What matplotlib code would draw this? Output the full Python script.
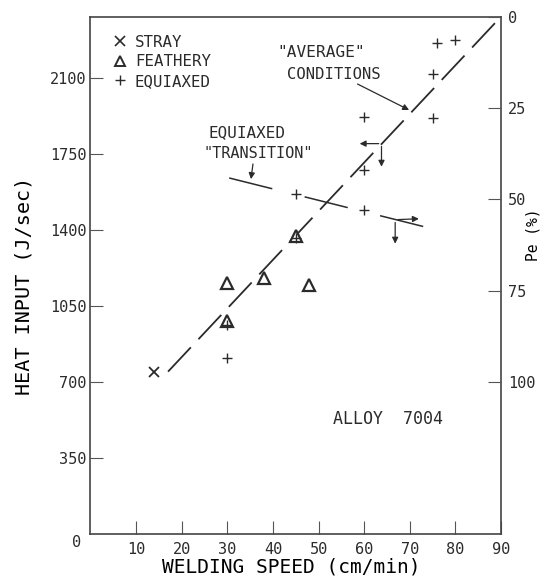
import numpy as np
import matplotlib
matplotlib.use("Agg")
import matplotlib.pyplot as plt
from matplotlib.lines import Line2D

plt.rcParams['font.family'] = 'DejaVu Sans Mono'
plt.rcParams['lines.scale_dashes'] = False

ink = '#2b2b2b'
plt.rcParams['text.color'] = ink

# axis scales
speed_ticks = [10, 20, 30, 40, 50, 60, 70, 80, 90]
heat_ticks = [350, 700, 1050, 1400, 1750, 2100]
pe_ticks = [0, 25, 50, 75, 100]
heat_top = 2380     # heat input at top frame (Pe = 0)
heat_pe100 = 700    # heat input where Pe = 100

# weld structures: speed (cm/min), heat input (J/sec)
stray_speed = [14]
stray_heat = [745]
feathery_speed = [30, 30, 38, 48, 45]
feathery_heat = [982, 1155, 1180, 1145, 1372]
equiaxed_speed = [30, 30, 45, 45, 60, 60, 60, 75, 75, 76, 80]
equiaxed_heat = [810, 962, 1360, 1565, 1490, 1675, 1920, 1915, 2115, 2260, 2275]

# "average conditions" line and equiaxed transition line
avg_speed = [17, 90]
avg_heat = [747, 2380]
trans_speed = [30.4, 75.2]
trans_heat = [1638, 1403]


def pe_of(h):
    return (heat_top - h) / (heat_top - heat_pe100) * 100


fig = plt.figure(figsize=(5.46, 5.79), dpi=100)
ax = fig.add_axes([0.16575, 0.07772, 0.75183, 0.89344])
ax.set_xlim(0, 90)
ax.set_ylim(0, heat_top)

ax.plot(avg_speed, avg_heat, color=ink, lw=1.3, dashes=(24, 8))
ax.plot(trans_speed, trans_heat, color=ink, lw=1.1, dashes=(32, 24))

ax.plot(stray_speed, stray_heat, ls='none', marker='x', ms=7, mew=1.3, color=ink)
ax.plot(feathery_speed, feathery_heat, ls='none', marker='^', ms=8, mew=1.6,
        mfc='white', mec=ink)
ax.plot(equiaxed_speed, equiaxed_heat, ls='none', marker='+', ms=7, mew=1.0, color=ink)

# annotations
ax.text(41.0, 2215, '"AVERAGE"', fontsize=11.6, va='center')
ax.text(43.0, 2115, 'CONDITIONS', fontsize=11.2, va='center')
ax.annotate('', xy=(70.4, 1945), xytext=(58.0, 2076),
            arrowprops=dict(arrowstyle='-|>', lw=0.9, color=ink, mutation_scale=9))

ax.text(25.8, 1848, 'EQUIAXED', fontsize=11.5, va='center')
ax.text(24.8, 1752, '"TRANSITION"', fontsize=11.0, va='center')
ax.annotate('', xy=(35.1, 1620), xytext=(35.7, 1715),
            arrowprops=dict(arrowstyle='-|>', lw=0.9, color=ink, mutation_scale=9))

# direction arrows where the lines cross
arrow = dict(arrowstyle='-|>', lw=0.9, color=ink, mutation_scale=9)
ax.annotate('', xy=(58.4, 1796), xytext=(63.8, 1796), arrowprops=arrow)
ax.annotate('', xy=(63.8, 1677), xytext=(63.8, 1796), arrowprops=arrow)
ax.annotate('', xy=(72.6, 1451), xytext=(66.8, 1446), arrowprops=arrow)
ax.annotate('', xy=(66.8, 1323), xytext=(66.8, 1446), arrowprops=arrow)

ax.text(53.2, 528, 'ALLOY  7004', fontsize=12, va='center')

# legend
handles = [
    Line2D([], [], ls='none', marker='x', ms=7, mew=1.2, color=ink),
    Line2D([], [], ls='none', marker='^', ms=7, mew=1.4, mfc='white', mec=ink),
    Line2D([], [], ls='none', marker='+', ms=7, mew=1.0, color=ink),
]
leg = ax.legend(handles, ['STRAY', 'FEATHERY', 'EQUIAXED'], loc='upper left',
                bbox_to_anchor=(0.0524, 0.9654), frameon=False, fontsize=11.3,
                handlelength=1.0, handletextpad=0.46, labelspacing=0.29,
                borderpad=0, borderaxespad=0)

# axes styling
for s in ax.spines.values():
    s.set_color('#444444')
    s.set_linewidth(1.2)
ax.set_xticks(speed_ticks)
ax.set_yticks(heat_ticks)
ax.tick_params(axis='both', direction='in', length=9.4, width=0.8, color='#555555',
               labelsize=11, labelcolor=ink)
ax.tick_params(axis='x', pad=6)
ax.tick_params(axis='y', pad=3)
ax.text(-0.033, -0.017, '0', transform=ax.transAxes, ha='center', va='center',
        fontsize=11)

ax.set_xlabel('WELDING SPEED (cm/min)', fontsize=14)
ax.xaxis.set_label_coords(0.488, -0.046)
ax.set_ylabel('HEAT INPUT (J/sec)', fontsize=14.5)
ax.yaxis.set_label_coords(-0.140, 0.48)

# penetration scale on the right
ax2 = ax.twinx()
ax2.set_ylim(pe_of(0), pe_of(heat_top))
ax2.set_yticks(pe_ticks)
ax2.tick_params(axis='y', direction='in', length=9.4, width=0.8, color='#555555',
                labelsize=11, labelcolor=ink, pad=5)
for s in ax2.spines.values():
    s.set_visible(False)
ax2.set_ylabel('Pe (%)', fontsize=10.5)
ax2.yaxis.set_label_coords(1.060, 0.578)

fig.savefig('out.png', dpi=100)
